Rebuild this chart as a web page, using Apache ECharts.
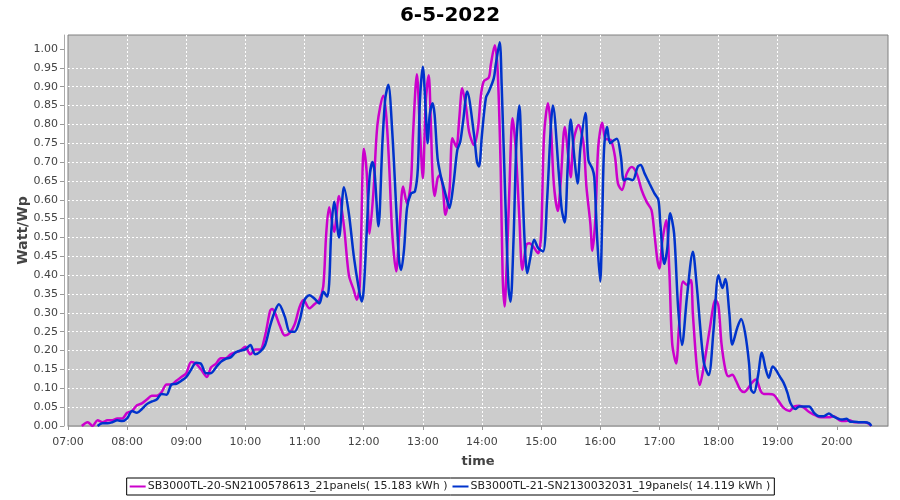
<!DOCTYPE html>
<html>
<head>
<meta charset="utf-8">
<script src="https://cdn.jsdelivr.net/npm/echarts@6/dist/echarts.min.js"></script>
<style>
html,body{margin:0;padding:0;background:#fff;}
#c{width:900px;height:500px;}
</style>
</head>
<body>
<div id="c"></div>
<script>
const chartTitle = '6-5-2022';
const nameA = 'SB3000TL-20-SN2100578613_21panels( 15.183 kWh )';
const nameB = 'SB3000TL-21-SN2130032031_19panels( 14.119 kWh )';
const hourTicks = [7,8,9,10,11,12,13,14,15,16,17,18,19,20];
const yTicks = [0,0.05,0.1,0.15,0.2,0.25,0.3,0.35,0.4,0.45,0.5,0.55,0.6,0.65,0.7,0.75,0.8,0.85,0.9,0.95,1.0];

const timesA = ['07:14','07:20','07:25','07:30','07:35','07:40','07:45','07:50','07:55','08:00','08:05','08:10','08:15','08:20','08:25','08:30','08:35','08:40','08:45','08:50','08:55','09:00','09:05','09:10','09:15','09:21','09:25','09:30','09:35','09:40','09:45','09:50','09:55','10:00','10:05','10:10','10:15','10:20','10:25','10:27','10:30','10:35','10:40','10:45','10:50','10:55','10:59','11:05','11:10','11:15','11:19','11:22','11:25','11:30','11:35','11:40','11:45','11:50','11:53','11:56','11:59','12:00','12:03','12:06','12:10','12:14','12:20','12:23','12:26','12:29','12:33','12:36','12:40','12:44','12:48','12:50','12:54','12:57','13:00','13:03','13:06','13:08','13:10','13:12','13:15','13:17','13:20','13:23','13:27','13:30','13:34','13:37','13:40','13:44','13:47','13:52','13:56','13:59','14:02','14:07','14:09','14:13','14:16','14:19','14:21','14:23','14:25','14:28','14:31','14:34','14:38','14:41','14:45','14:48','14:52','14:57','15:00','15:03','15:07','15:10','15:13','15:17','15:20','15:24','15:28','15:30','15:33','15:38','15:43','15:46','15:50','15:52','15:55','15:58','16:02','16:05','16:08','16:11','16:15','16:18','16:22','16:27','16:32','16:37','16:42','16:47','16:52','16:55','16:58','17:00','17:03','17:07','17:10','17:13','17:17','17:20','17:24','17:28','17:32','17:34','17:38','17:41','17:45','17:51','17:57','18:00','18:03','18:07','18:10','18:14','18:18','18:22','18:26','18:30','18:34','18:38','18:43','18:46','18:51','18:56','19:01','19:06','19:12','19:17','19:22','19:27','19:32','19:37','19:42','19:47','19:52','19:57','20:03','20:08','20:13','20:18','20:23','20:28','20:32','20:35'];
const valuesA = [0,0.01,0,0.015,0.01,0.015,0.015,0.02,0.02,0.035,0.04,0.055,0.06,0.07,0.08,0.08,0.09,0.11,0.11,0.12,0.13,0.14,0.17,0.165,0.15,0.13,0.155,0.165,0.18,0.18,0.19,0.195,0.2,0.21,0.19,0.203,0.203,0.24,0.305,0.31,0.3,0.265,0.24,0.247,0.27,0.316,0.334,0.312,0.323,0.335,0.37,0.51,0.58,0.515,0.61,0.53,0.4,0.36,0.335,0.37,0.69,0.735,0.675,0.51,0.625,0.8,0.876,0.82,0.684,0.51,0.41,0.507,0.635,0.59,0.65,0.77,0.933,0.79,0.657,0.86,0.93,0.816,0.657,0.61,0.657,0.665,0.64,0.56,0.62,0.763,0.74,0.816,0.896,0.843,0.78,0.745,0.79,0.878,0.915,0.924,0.958,1.01,0.94,0.684,0.4,0.317,0.42,0.64,0.816,0.745,0.55,0.414,0.48,0.485,0.476,0.458,0.507,0.77,0.856,0.79,0.64,0.57,0.652,0.793,0.705,0.66,0.758,0.798,0.75,0.635,0.537,0.465,0.546,0.74,0.804,0.762,0.76,0.758,0.714,0.643,0.626,0.67,0.687,0.67,0.626,0.595,0.573,0.51,0.44,0.418,0.49,0.546,0.42,0.22,0.166,0.264,0.383,0.374,0.387,0.298,0.157,0.109,0.157,0.255,0.335,0.318,0.22,0.15,0.132,0.136,0.119,0.097,0.09,0.1,0.115,0.123,0.092,0.085,0.085,0.083,0.066,0.048,0.04,0.052,0.054,0.048,0.037,0.03,0.024,0.023,0.023,0.026,0.015,0.013,0.015,0.01,0.01,0.01,0.007,0];

const timesB = ['07:30','07:35','07:40','07:45','07:50','07:55','08:00','08:05','08:10','08:15','08:20','08:25','08:30','08:35','08:40','08:45','08:50','08:55','09:00','09:05','09:10','09:15','09:20','09:25','09:30','09:35','09:40','09:45','09:50','09:55','10:00','10:05','10:10','10:15','10:20','10:25','10:30','10:34','10:40','10:45','10:50','10:55','11:00','11:05','11:10','11:15','11:19','11:23','11:25','11:27','11:30','11:35','11:40','11:45','11:50','11:55','11:58','12:00','12:03','12:06','12:09','12:11','12:15','12:19','12:22','12:25','12:29','12:33','12:36','12:38','12:41','12:44','12:48','12:52','12:55','12:57','13:00','13:03','13:05','13:07','13:10','13:12','13:15','13:18','13:21','13:25','13:27','13:31','13:35','13:38','13:41','13:45','13:52','13:55','13:57','14:00','14:04','14:07','14:12','14:14','14:18','14:20','14:24','14:27','14:29','14:32','14:35','14:38','14:40','14:43','14:46','14:49','14:53','14:57','15:02','15:06','15:10','15:12','15:18','15:21','15:24','15:27','15:30','15:34','15:37','15:40','15:45','15:48','15:52','15:54','15:57','16:00','16:02','16:04','16:07','16:10','16:14','16:17','16:21','16:24','16:28','16:33','16:38','16:41','16:45','16:50','16:55','16:59','17:01','17:05','17:08','17:11','17:15','17:19','17:23','17:28','17:34','17:38','17:45','17:50','17:55','18:00','18:04','18:07','18:11','18:14','18:19','18:23','18:27','18:31','18:33','18:36','18:40','18:44','18:48','18:51','18:55','18:58','19:02','19:06','19:10','19:13','19:18','19:22','19:27','19:32','19:37','19:42','19:47','19:52','19:56','20:01','20:05','20:10','20:14','20:18','20:23','20:28','20:33','20:35'];
const valuesB = [0,0.007,0.007,0.01,0.015,0.013,0.02,0.04,0.035,0.045,0.058,0.065,0.07,0.085,0.083,0.11,0.112,0.12,0.13,0.15,0.168,0.165,0.14,0.14,0.155,0.17,0.178,0.182,0.195,0.2,0.203,0.215,0.19,0.197,0.215,0.265,0.305,0.323,0.29,0.25,0.25,0.28,0.334,0.347,0.338,0.325,0.356,0.343,0.378,0.51,0.595,0.5,0.633,0.563,0.45,0.365,0.33,0.36,0.51,0.66,0.7,0.675,0.53,0.75,0.87,0.905,0.78,0.58,0.437,0.414,0.47,0.578,0.617,0.622,0.684,0.86,0.953,0.834,0.75,0.825,0.856,0.825,0.71,0.666,0.635,0.595,0.578,0.64,0.732,0.754,0.81,0.887,0.772,0.7,0.688,0.772,0.87,0.887,0.922,0.958,1.018,0.905,0.578,0.366,0.33,0.49,0.754,0.85,0.73,0.507,0.405,0.445,0.494,0.472,0.463,0.595,0.8,0.85,0.67,0.573,0.54,0.687,0.813,0.705,0.643,0.74,0.83,0.705,0.683,0.66,0.493,0.383,0.546,0.74,0.793,0.75,0.758,0.762,0.714,0.652,0.656,0.652,0.687,0.692,0.67,0.643,0.617,0.6,0.537,0.43,0.47,0.564,0.51,0.316,0.215,0.342,0.462,0.37,0.17,0.135,0.255,0.4,0.366,0.39,0.3,0.216,0.26,0.284,0.247,0.167,0.097,0.088,0.132,0.194,0.15,0.128,0.158,0.15,0.132,0.115,0.088,0.061,0.045,0.052,0.052,0.052,0.035,0.026,0.026,0.033,0.026,0.02,0.017,0.019,0.011,0.011,0.01,0.01,0.007,0];

function toHours(s){const p=s.split(':');return +p[0]+(+p[1])/60;}
function pairs(ts,vs){return ts.map((t,i)=>[toHours(t),vs[i]]);}
function pad2(n){return (n<10?'0':'')+n;}

const FONT = 'DejaVu Sans';
const chart = echarts.init(document.getElementById('c'), null, {renderer:'canvas'});
chart.setOption({
  animation:false,
  backgroundColor:'#ffffff',
  title:{text:chartTitle,left:'center',top:1,textStyle:{fontFamily:FONT,fontSize:20,fontWeight:'bold',color:'#000'}},
  grid:{left:68,right:12,top:35,bottom:74,show:true,backgroundColor:'#cccccc',borderColor:'#808080',borderWidth:1},
  legend:{
    data:[nameA,nameB],left:'center',top:478,orient:'horizontal',
    icon:'rect',itemWidth:16,itemHeight:2,itemGap:5,
    borderColor:'#000',borderWidth:1,borderRadius:0,padding:[3,4,3,3],
    textStyle:{fontFamily:FONT,fontSize:11,color:'#222',padding:[0,0,0,-3]}
  },
  xAxis:{
    type:'value',min:7,max:20+52/60,offset:4,
    axisLine:{show:true,lineStyle:{color:'#aaaaaa'}},
    axisTick:{show:true,length:4,customValues:hourTicks,lineStyle:{color:'#999999'}},
    axisLabel:{customValues:hourTicks,formatter:v=>pad2(Math.round(v))+':00',color:'#444',fontFamily:FONT,fontSize:11,margin:7},
    splitLine:{show:true,showMinLine:false,showMaxLine:false,lineStyle:{color:'#ffffff',type:[2,2],width:1}},
    name:'time',nameLocation:'middle',nameGap:25,
    nameTextStyle:{fontFamily:FONT,fontSize:13,fontWeight:'bold',color:'#444'}
  },
  yAxis:{
    type:'value',min:0,max:1.037,offset:4,
    axisLine:{show:true,lineStyle:{color:'#aaaaaa'}},
    axisTick:{show:true,length:4,customValues:yTicks,lineStyle:{color:'#999999'}},
    axisLabel:{customValues:yTicks,formatter:v=>v.toFixed(2),color:'#444',fontFamily:FONT,fontSize:11,margin:6},
    splitLine:{show:true,showMinLine:false,showMaxLine:false,lineStyle:{color:'#ffffff',type:[2,2],width:1}},
    name:'Watt/Wp',nameLocation:'middle',nameGap:34,nameMoveOverlap:false,
    nameTextStyle:{fontFamily:FONT,fontSize:14,fontWeight:'bold',color:'#444'}
  },
  series:[
    {name:nameA,type:'line',data:pairs(timesA,valuesA),smooth:0.3,showSymbol:false,
     itemStyle:{color:'#cc00cc'},lineStyle:{color:'#cc00cc',width:2.5},z:2},
    {name:nameB,type:'line',data:pairs(timesB,valuesB),smooth:0.3,showSymbol:false,
     itemStyle:{color:'#0033cc'},lineStyle:{color:'#0033cc',width:2.5},z:3}
  ]
});
</script>
</body>
</html>
